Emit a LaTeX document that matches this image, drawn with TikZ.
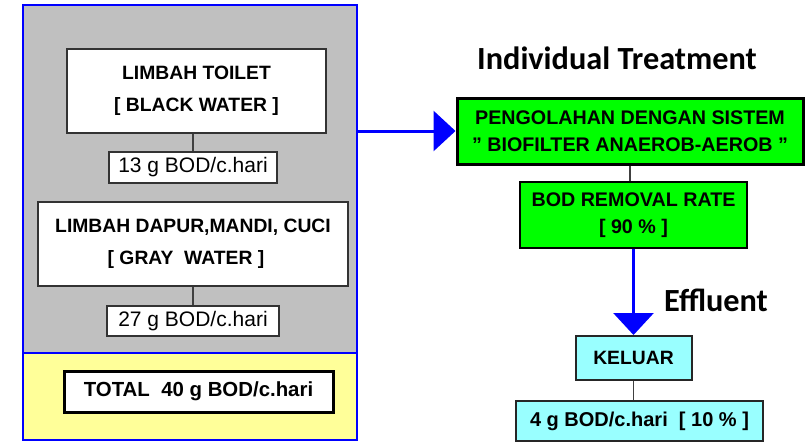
\documentclass[tikz,border=0pt]{standalone}
\usepackage{fontspec}
\setmainfont{Liberation Sans}
\newfontfamily\headfont{Carlito}
\usetikzlibrary{arrows.meta}
\definecolor{panelgray}{HTML}{C0C0C0}
\definecolor{paleyellow}{HTML}{FFFF99}
\definecolor{brightgreen}{HTML}{00FF00}
\definecolor{palecyan}{HTML}{99FFFF}
\definecolor{pureblue}{HTML}{0000FF}
\begin{document}
\begin{tikzpicture}[x=1pt,y=-1pt,
  box/.style={draw=black!80, fill=white, line width=1.3pt, inner sep=0pt, align=center,
    font=\bfseries\fontsize{19.3}{32}\selectfont},
  numbox/.style={box, font=\fontsize{21}{25}\selectfont},
  greenbox/.style={box, fill=brightgreen, draw=black, font=\bfseries\fontsize{19.7}{26.5}\selectfont},
  cyanbox/.style={box, fill=palecyan, draw=black!85, font=\bfseries\fontsize{20}{24}\selectfont},
  link/.style={draw=black!75, line width=1.2pt},
  flow/.style={draw=pureblue, line width=3pt, -{Triangle[length=22pt,width=40pt]}},
  heading/.style={font=\headfont\bfseries\fontsize{32.3}{36}\selectfont, inner sep=0pt}
]
\useasboundingbox (0,0) rectangle (811,442);
% left panel backgrounds
\fill[panelgray] (23,5) rectangle (357,353);
\fill[paleyellow] (23,353) rectangle (357,440);
\node[draw=pureblue, line width=2.8pt, minimum width=334pt, minimum height=435pt, inner sep=0pt] (panel) at (190,222.5) {};
\coordinate (divl) at (23,353);
\coordinate (divr) at (357,353);
\draw[pureblue, line width=2.8pt] (divl) -- (divr);

% left boxes
\node[box, minimum width=259pt, minimum height=84pt] (toilet) at (196.5,91) {LIMBAH TOILET\\{[} BLACK WATER ]};
\node[numbox, minimum width=168pt, minimum height=31pt] (b13) at (193,167.5) {13 g BOD/c.hari};
\node[box, minimum width=310pt, minimum height=84pt] (gray) at (193,244) {LIMBAH DAPUR,MANDI, CUCI\\{[} GRAY\ \ WATER ]\hspace*{14pt}};
\node[numbox, minimum width=172pt, minimum height=30pt] (b27) at (193,321) {27 g BOD/c.hari};
\node[box, draw=black, line width=3pt, minimum width=269pt, minimum height=41pt,
  font=\bfseries\fontsize{20.4}{24}\selectfont] (total) at (198.5,391.5) {TOTAL\ \ 40 g BOD/c.hari};

\draw[link] (b13.north) -- (b13.north |- toilet.south);
\draw[link] (b27.north) -- (b27.north |- gray.south);

% right side
\node[heading] (head) at (617,58) {Individual Treatment};
\node[greenbox, line width=3pt, minimum width=346pt, minimum height=66pt] (g1) at (630,131) {PENGOLAHAN DENGAN SISTEM\\\symbol{34} BIOFILTER ANAEROB-AEROB \symbol{34}};
\node[greenbox, minimum width=227pt, minimum height=66pt] (g2) at (633.5,215) {BOD REMOVAL RATE\\{[} 90 \% ]};
\node[cyanbox, line width=2pt, minimum width=116pt, minimum height=44pt, font=\bfseries\fontsize{19.3}{24}\selectfont] (kel) at (633.5,358) {KELUAR};
\node[cyanbox, minimum width=247pt, minimum height=40pt] (out) at (639.5,421) {4 g BOD/c.hari\ \ [ 10 \% ]};
\node[heading] (eff) at (716,300) {Effluent};

\draw[flow] (panel.east |- g1.west) -- (g1.west);
\draw[link] (g2.north -| g1.south) -- (g1.south);
\draw[flow] (g2.south) -- (kel.north);
\draw[link] (kel.south) -- (kel.south |- out.north);
\end{tikzpicture}
\end{document}
